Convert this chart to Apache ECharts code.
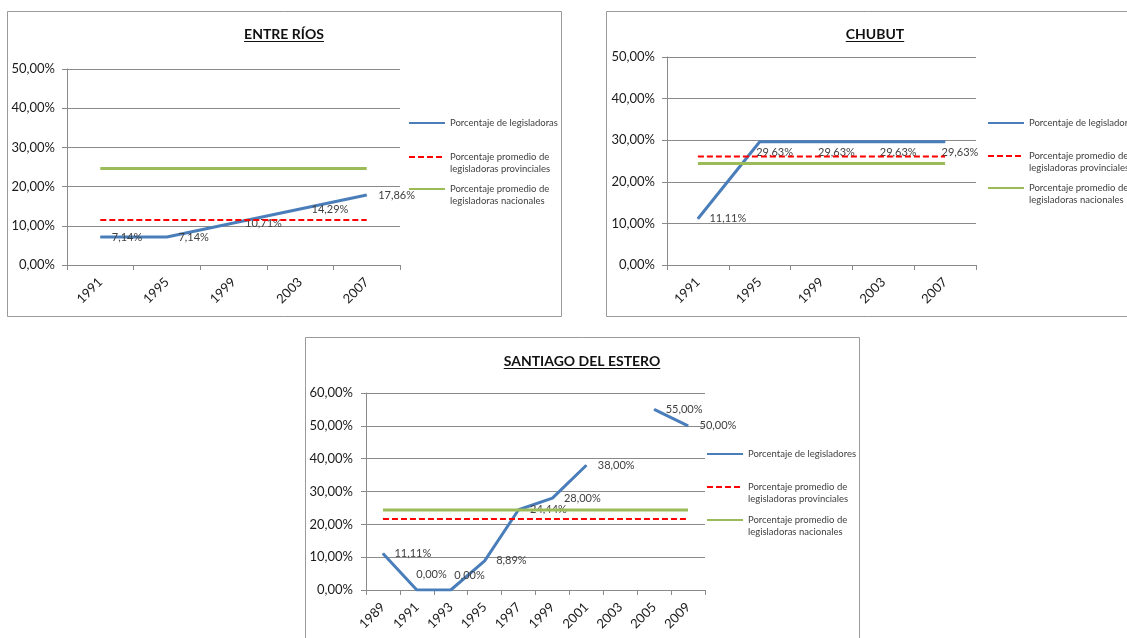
<!DOCTYPE html>
<html><head><meta charset="utf-8">
<script src="https://cdn.jsdelivr.net/npm/echarts@6/dist/echarts.min.js"></script>
<style>html,body{margin:0;padding:0;background:#fff;overflow:hidden}#c{width:1127px;height:638px}</style>
</head><body><div id="c"></div><script>
// ---- data ----
const yearsER = ['1991', '1995', '1999', '2003', '2007'];
const legisER = [7.14, 7.14, 10.71, 14.29, 17.86];
const provER = [11.5, 11.5, 11.5, 11.5, 11.5];
const nacER = [24.6, 24.6, 24.6, 24.6, 24.6];

const yearsCH = ['1991', '1995', '1999', '2003', '2007'];
const legisCH = [11.11, 29.63, 29.63, 29.63, 29.63];
const provCH = [26.1, 26.1, 26.1, 26.1, 26.1];
const nacCH = [24.4, 24.4, 24.4, 24.4, 24.4];

const yearsSE = ['1989', '1991', '1993', '1995', '1997', '1999', '2001', '2003', '2005', '2009'];
const legisSE = [11.11, 0.00, 0.00, 8.89, 24.44, 28.00, 38.00, null, 55.00, 50.00];
const provSE = [21.6, 21.6, 21.6, 21.6, 21.6, 21.6, 21.6, 21.6, 21.6, 21.6];
const nacSE = [24.4, 24.4, 24.4, 24.4, 24.4, 24.4, 24.4, 24.4, 24.4, 24.4];

const yTicksER = [0, 10, 20, 30, 40, 50];
const yTicksCH = [0, 10, 20, 30, 40, 50];
const yTicksSE = [0, 10, 20, 30, 40, 50, 60];

const titles = ['ENTRE RÍOS', 'CHUBUT', 'SANTIAGO DEL ESTERO'];
const nameLegA = 'Porcentaje de legisladoras';
const nameLegB = 'Porcentaje de legisladores';
const nameProv = 'Porcentaje promedio de\nlegisladoras provinciales';
const nameNac = 'Porcentaje promedio de\nlegisladoras nacionales';

// ---- layout / style ----
const FONT = 'Lato, "Open Sans", sans-serif';
const BLUE = '#4A7EBB', RED = '#FF0000', GREEN = '#9BBB59', GRID = '#8a8a8a';
const pct = v => (v == null ? '' : Number(v).toFixed(2).replace('.', ',') + '%');

const panels = [
  { title: titles[0], tx: 284, ty: 34, box: [7, 11, 554, 305],
    grid: { left: 67, top: 69, width: 333, height: 196 }, cats: yearsER, ticks: yTicksER,
    legis: legisER, legName: nameLegA, prov: provER, nac: nacER,
    lx: 408, ly: [122, 156, 188], ymargin: 12, labelOv: {} },
  { title: titles[1], tx: 875, ty: 34, box: [606, 11, 600, 305],
    grid: { left: 667, top: 57, width: 309, height: 208 }, cats: yearsCH, ticks: yTicksCH,
    legis: legisCH, legName: nameLegA, prov: provCH, nac: nacCH,
    lx: 987, ly: [122, 155, 187], ymargin: 12,
    labelOv: { 1: { position: [-3, 6] }, 2: { position: [-3, 6] }, 3: { position: [-3, 6] }, 4: { position: [-3, 6] } } },
  { title: titles[2], tx: 582, ty: 361, box: [305, 337, 554, 320],
    grid: { left: 366, top: 393, width: 339, height: 197 }, cats: yearsSE, ticks: yTicksSE,
    legis: legisSE, legName: nameLegB, prov: provSE, nac: nacSE,
    lx: 706, ly: [453, 486, 519], ymargin: 13,
    labelOv: { 1: { position: [0, -21] }, 2: { position: [4, -20] } } }
];

const option = {
  animation: false,
  backgroundColor: '#fff',
  title: [], grid: [], xAxis: [], yAxis: [], series: [], legend: [], graphic: []
};

const mctx = document.createElement('canvas').getContext('2d');
mctx.font = 'bold 14px ' + FONT;

panels.forEach((p, i) => {
  option.graphic.push({ type: 'rect', z: -10, silent: true,
    shape: { x: p.box[0] + 0.5, y: p.box[1] + 0.5, width: p.box[2], height: p.box[3] },
    style: { fill: '#fff', stroke: '#9a9a9a', lineWidth: 1 } });
  option.title.push({ text: p.title, left: p.tx, top: p.ty, textAlign: 'center', textVerticalAlign: 'middle', padding: 0,
    textStyle: { fontFamily: FONT, fontWeight: 'bold', fontSize: 14, color: '#111' } });
  const w = mctx.measureText(p.title).width;
  option.graphic.push({ type: 'line', silent: true, z: 10,
    shape: { x1: p.tx - w / 2, y1: p.ty + 7.5, x2: p.tx + w / 2, y2: p.ty + 7.5 },
    style: { stroke: '#111', lineWidth: 1 } });

  option.grid.push(Object.assign({ containLabel: false }, p.grid));
  option.xAxis.push({ type: 'category', gridIndex: i, data: p.cats, boundaryGap: true,
    axisLine: { show: true, lineStyle: { color: GRID, width: 1 } },
    axisTick: { show: true, length: 5, alignWithLabel: false, interval: 0, lineStyle: { color: GRID } },
    axisLabel: { interval: 0, rotate: 45, margin: 15, fontFamily: FONT, fontSize: 13, color: '#1a1a1a' },
    splitLine: { show: false } });
  option.yAxis.push({ type: 'value', gridIndex: i, min: p.ticks[0], max: p.ticks[p.ticks.length - 1],
    interval: p.ticks[1] - p.ticks[0],
    axisLine: { show: true, lineStyle: { color: GRID, width: 1 } },
    axisTick: { show: true, length: 5, lineStyle: { color: GRID } },
    axisLabel: { margin: p.ymargin, formatter: v => pct(v), fontFamily: FONT, fontSize: 13, color: '#1a1a1a' },
    splitLine: { show: true, lineStyle: { color: GRID, width: 1 } } });

  option.series.push({ type: 'line', name: p.legName, xAxisIndex: i, yAxisIndex: i,
    data: p.legis.map((v, j) => p.labelOv[j] ? { value: v, label: p.labelOv[j] } : { value: v }),
    symbol: 'circle', symbolSize: 1, showSymbol: true, connectNulls: false,
    lineStyle: { color: BLUE, width: 3 }, itemStyle: { color: BLUE },
    label: { show: true, position: 'right', distance: 11, formatter: q => pct(q.value),
      fontFamily: FONT, fontSize: 11, color: '#404040' },
    emphasis: { disabled: true }, z: 2 });
  option.series.push({ type: 'line', name: nameProv, xAxisIndex: i, yAxisIndex: i, data: p.prov,
    symbol: 'none', lineStyle: { color: RED, width: 2, type: [6, 3] }, itemStyle: { color: RED },
    emphasis: { disabled: true }, z: 3 });
  option.series.push({ type: 'line', name: nameNac, xAxisIndex: i, yAxisIndex: i, data: p.nac,
    symbol: 'none', lineStyle: { color: GREEN, width: 3 }, itemStyle: { color: GREEN },
    emphasis: { disabled: true }, z: 3 });

  [p.legName, nameProv, nameNac].forEach((nm, k) => {
    const two = k > 0;
    option.legend.push({ data: [nm], left: p.lx, top: two ? p.ly[k] - 17 : p.ly[k] - 5, orient: 'vertical', padding: 0,
      itemWidth: 36, itemHeight: 10, itemGap: 0, selectedMode: false,
      itemStyle: { opacity: 0 },
      formatter: two ? (n => '\n' + n) : (n => n),
      textStyle: { fontFamily: FONT, fontSize: 9.5, color: '#404040', lineHeight: 12 } });
  });
});

const chart = echarts.init(document.getElementById('c'), null, { renderer: 'canvas' });
chart.setOption(option);
</script></body></html>
